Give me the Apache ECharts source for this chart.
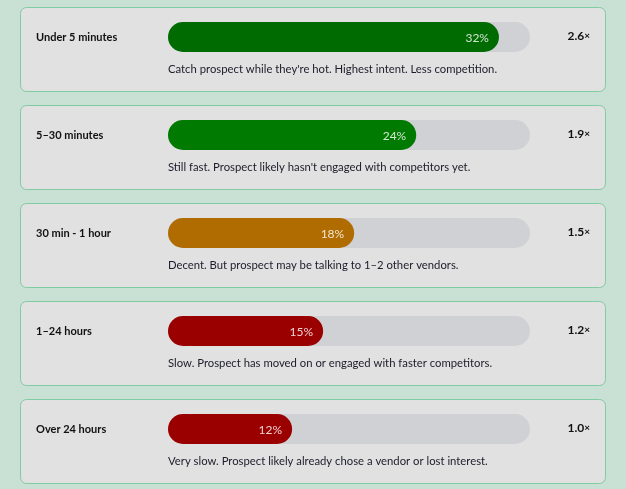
<!DOCTYPE html>
<html><head><meta charset="utf-8">
<script src="https://cdn.jsdelivr.net/npm/echarts@6/dist/echarts.min.js"></script>
<style>html,body{margin:0;padding:0;background:#c9e0d4;}#c{width:626px;height:489px;}</style>
</head><body><div id="c"></div>
<script>
const categories = ["Under 5 minutes","5–30 minutes","30 min - 1 hour","1–24 hours","Over 24 hours"];
const shares = [32, 24, 18, 15, 12];
const multipliers = ["2.6","1.9","1.5","1.2","1.0"];
const descriptions = [
  "Catch prospect while they're hot. Highest intent. Less competition.",
  "Still fast. Prospect likely hasn't engaged with competitors yet.",
  "Decent. But prospect may be talking to 1–2 other vendors.",
  "Slow. Prospect has moved on or engaged with faster competitors.",
  "Very slow. Prospect likely already chose a vendor or lost interest."
];
const barColors = ["#006b00","#007a00","#b06c00","#9a0000","#9a0000"];
const axisMax = 35;

const FONT = "Lato, 'Noto Sans', sans-serif";
const cardTop0 = 7, pitch = 98, cardH = 84;
const grids = [], xAxes = [], yAxes = [], series = [], graphics = [];
categories.forEach((cat, i) => {
  const top = cardTop0 + i * pitch;
  graphics.push({type:'rect', z:-10, shape:{x:20.5, y:top+0.5, width:585, height:cardH, r:6},
    style:{fill:'#e1e1e1', stroke:'#80cba2', lineWidth:1}});
  graphics.push({type:'text', left:168, top:top+57, style:{text:descriptions[i], font:'11.3px '+FONT, fill:'#1c1c2a'}});
  graphics.push({type:'text', right:36, top:top+23, style:{
    text:'{a|'+multipliers[i]+'}{b|×}', rich:{a:{font:'bold 12px '+FONT, fill:'#111'}, b:{font:'bold 10px '+FONT, fill:'#111'}}}});
  grids.push({left:168, width:362, top:top+15, height:30});
  xAxes.push({type:'value', gridIndex:i, min:0, max:axisMax, show:false});
  yAxes.push({type:'category', gridIndex:i, data:[cat], axisLine:{show:false}, axisTick:{show:false},
    axisLabel:{align:'left', margin:132, fontFamily:FONT, fontWeight:'bold', fontSize:11, color:'#111', padding:[4,0,0,0]}});
  series.push({type:'bar', xAxisIndex:i, yAxisIndex:i, data:[shares[i]], barWidth:30,
    showBackground:true, backgroundStyle:{color:'#d0d1d5', borderRadius:15},
    itemStyle:{color:barColors[i], borderRadius:15},
    label:{show:true, position:'insideRight', offset:[-5,1], formatter:'{c}%', color:'rgba(255,255,255,0.82)', fontFamily:FONT, fontSize:12},
    silent:true, animation:false});
});
const chart = echarts.init(document.getElementById('c'));
chart.setOption({backgroundColor:'#c9e0d4', animation:false, grid:grids, xAxis:xAxes, yAxis:yAxes, series:series, graphic:graphics});
</script></body></html>
